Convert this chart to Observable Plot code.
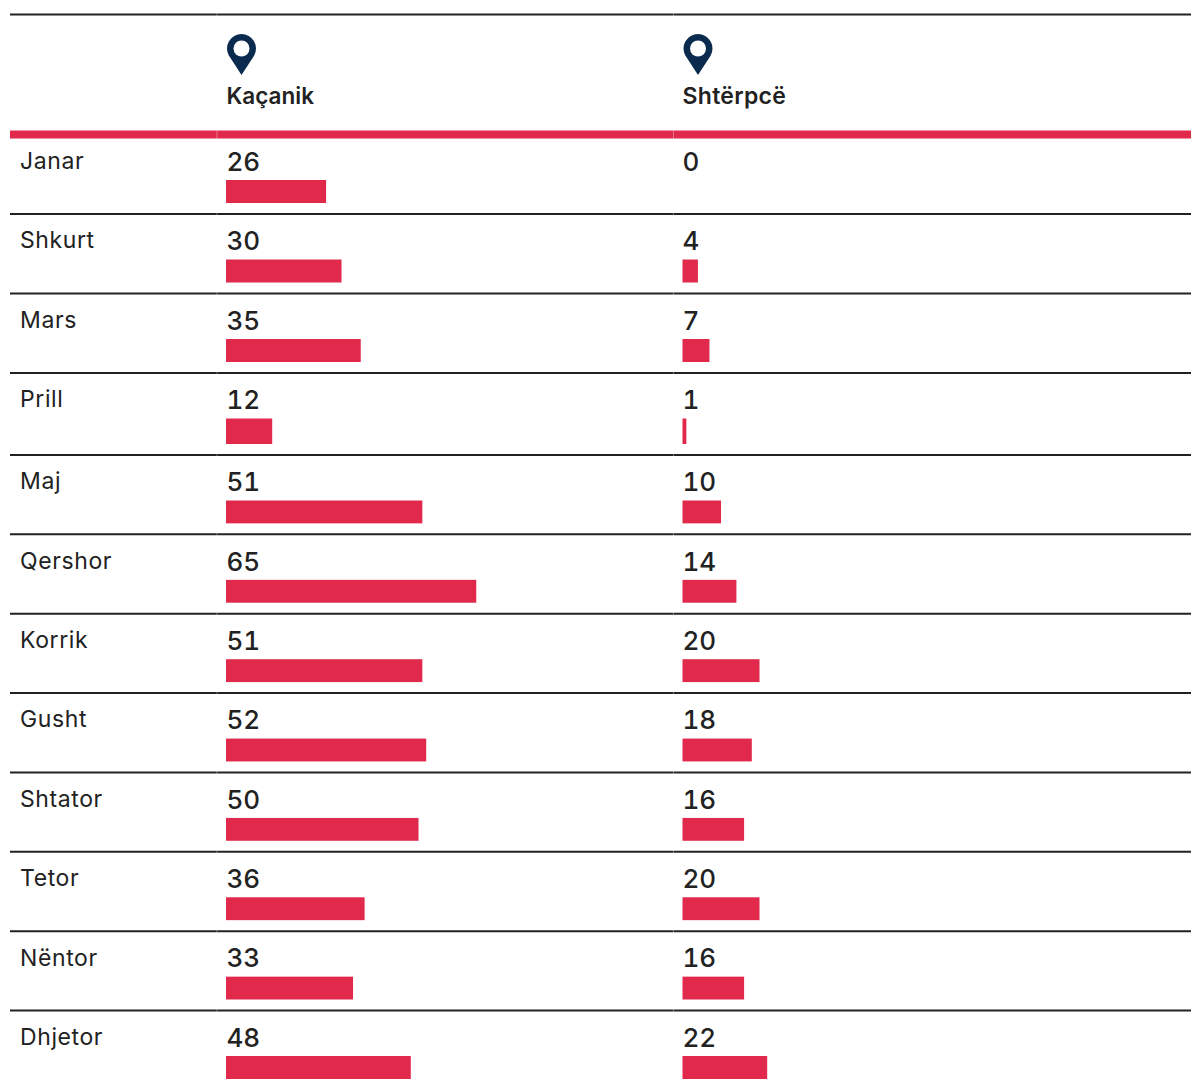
<!DOCTYPE html>
<html><head><meta charset="utf-8">
<script src="https://cdn.jsdelivr.net/npm/d3@7"></script>
<script src="https://cdn.jsdelivr.net/npm/@observablehq/plot@0.6"></script>
<style>html,body{margin:0;padding:0;background:#fff}svg{display:block}
.mo text{letter-spacing:0.6px}
.sh text{letter-spacing:0.3px}</style>
</head><body><div id="c"></div>
<script>
const months = ["Janar","Shkurt","Mars","Prill","Maj","Qershor","Korrik","Gusht","Shtator","Tetor","Nëntor","Dhjetor"];
const kacanik = [26,30,35,12,51,65,51,52,50,36,33,48];
const shterpce = [0,4,7,1,10,14,20,18,16,20,16,22];
const places = ["Kaçanik","Shtërpcë"];
const rows = months.map((m,i)=>({m,i,a:kacanik[i],b:shterpce[i]}));
const pin = {draw(c,size){const r=Math.sqrt(size/Math.PI);
  c.moveTo(0,r*1.83);
  c.lineTo(-r*0.86,r*0.5);
  c.arc(0,0,r,Math.PI-0.52,0.52,false);
  c.closePath();}};
const ink="#222222", red="#e1294c", navy="#0a2b4e";
const font="Inter, sans-serif";
const DX=456.5;
const plot = Plot.plot({
  width:1191,height:1084,margin:0,marginLeft:10,
  style:{background:"#fff",fontFamily:font},
  x:{type:"linear",domain:[0,100],range:[226,611],axis:null},
  y:{type:"linear",domain:[-1,0,3,4,11,12],range:[14,134,372.5,454.5,1010,1089.5],axis:null},
  marks:[
    Plot.ruleY(rows.slice(1),{y:"i",stroke:ink,strokeWidth:2}),
    Plot.ruleY([-1],{y:d=>d,stroke:ink,strokeWidth:2}),
    Plot.ruleY([0],{y:d=>d,stroke:red,strokeWidth:8}),
    Plot.ruleX(places.slice(0,1),{x:0,dx:-9.5,stroke:"#fff",strokeOpacity:0.35,strokeWidth:1}),
    Plot.ruleX(places.slice(1),{x:0,dx:DX-9.5,stroke:"#fff",strokeOpacity:0.35,strokeWidth:1}),
    Plot.rect(rows,{x1:0,x2:"a",y1:"i",y2:d=>d.i+1,fill:red,insetTop:46,insetBottom:10.5}),
    Plot.rect(rows,{x1:0,x2:"b",y1:"i",y2:d=>d.i+1,fill:red,insetTop:46,insetBottom:10.5,dx:DX}),
    Plot.text(rows,{className:"mo",y:"i",text:"m",frameAnchor:"left",textAnchor:"start",lineAnchor:"middle",dx:9.5,dy:27,fontSize:23,fill:ink}),
    Plot.text(rows,{x:0,y:"i",text:"a",textAnchor:"start",lineAnchor:"middle",dx:0,dy:28,fontSize:26,fontWeight:500,fill:ink}),
    Plot.text(rows,{x:0,y:"i",text:"b",textAnchor:"start",lineAnchor:"middle",dx:DX-0.5,dy:28,fontSize:26,fontWeight:500,fill:ink}),
    Plot.dot([places[0]],{x:0,frameAnchor:"top",symbol:pin,r:14.5,fill:navy,dx:15,dy:48}),
    Plot.dot([places[1]],{x:0,frameAnchor:"top",symbol:pin,r:14.5,fill:navy,dx:15+DX,dy:48}),
    Plot.dot(places.slice(0,1),{x:0,frameAnchor:"top",r:8,fill:"#fff",dx:15,dy:48}),
    Plot.dot(places.slice(1),{x:0,frameAnchor:"top",r:8,fill:"#fff",dx:15+DX,dy:48}),
    Plot.text(places.slice(0,1),{x:0,frameAnchor:"top",lineAnchor:"middle",text:d=>d,textAnchor:"start",dx:0,dy:96,fontSize:22.5,fontWeight:600,fill:ink}),
    Plot.text(places.slice(1),{className:"sh",x:0,frameAnchor:"top",lineAnchor:"middle",text:d=>d,textAnchor:"start",dx:DX-0.5,dy:96,fontSize:23,fontWeight:600,fill:ink})
  ]
});
document.getElementById("c").append(plot);
</script></body></html>
